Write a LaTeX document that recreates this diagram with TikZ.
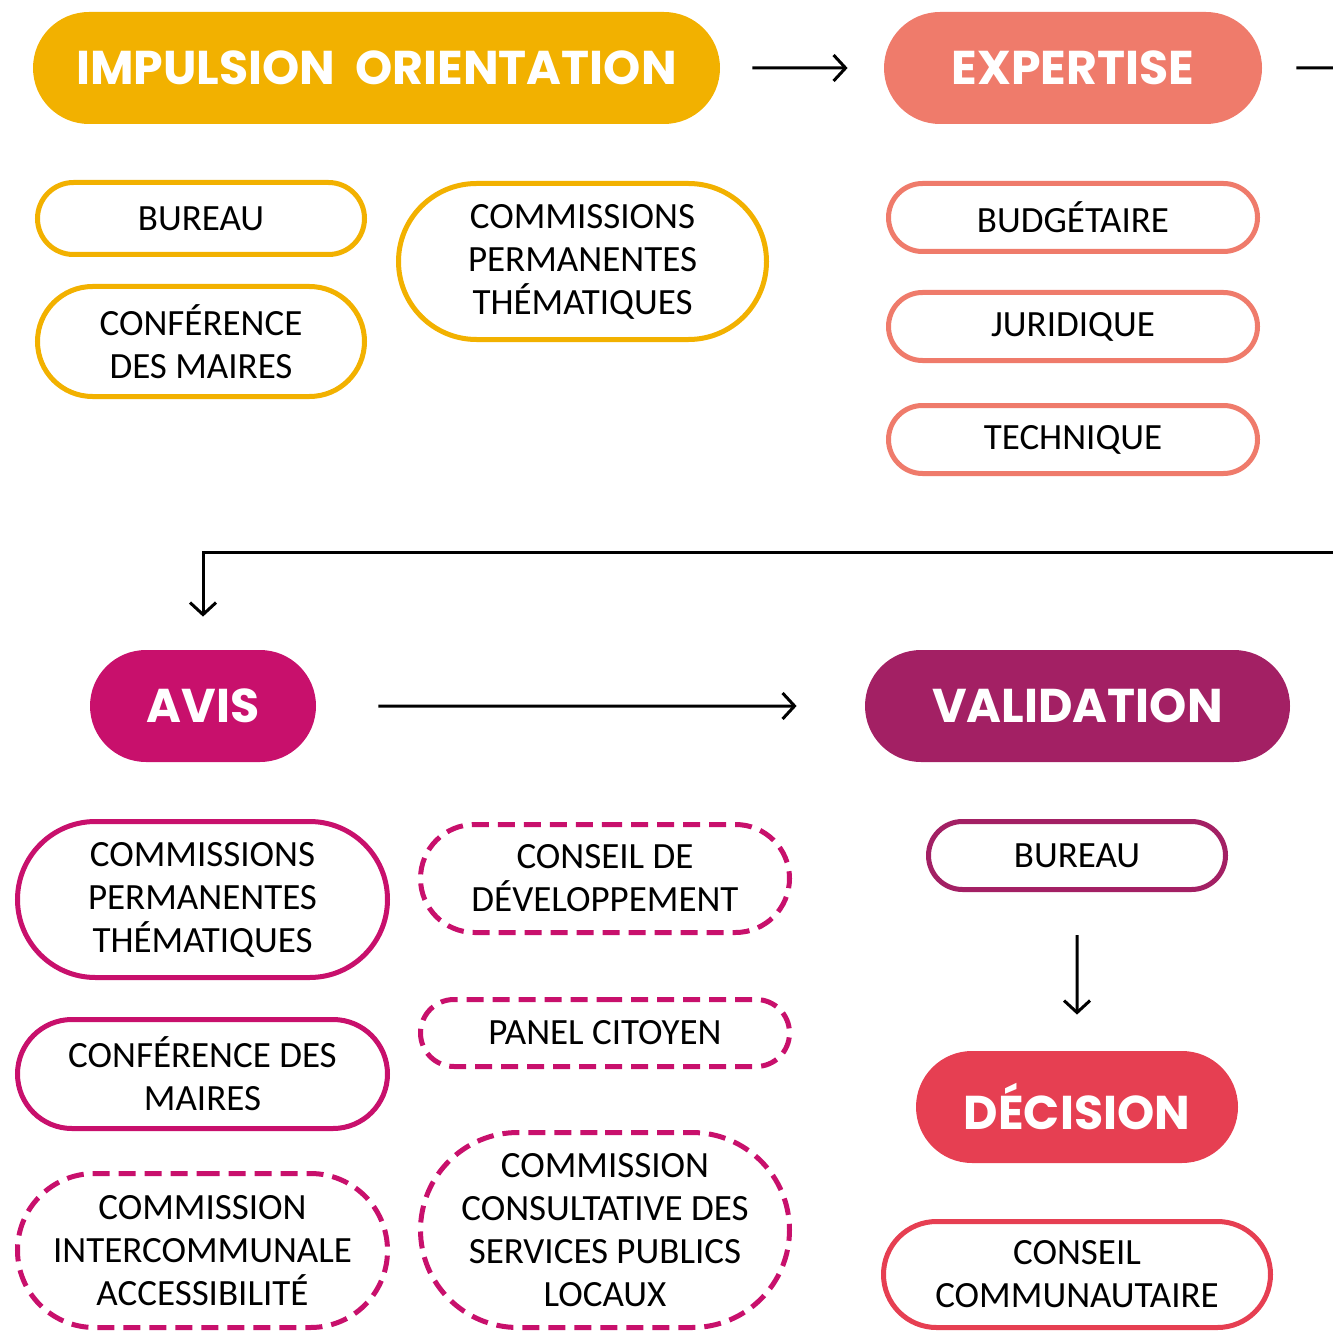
\documentclass[tikz,border=0pt]{standalone}
\usepackage{fontspec}
\setmainfont{Carlito}
\newfontfamily\headfont{Poppins}
\usetikzlibrary{shapes.misc,arrows.meta}

\definecolor{jaune}{HTML}{F2B100}
\definecolor{saumon}{HTML}{EF7B6B}
\definecolor{magenta}{HTML}{C8106C}
\definecolor{prune}{HTML}{A32064}
\definecolor{rouge}{HTML}{E63F52}

\tikzset{
	head/.style={rounded rectangle, fill=#1, text=white, inner sep=0pt,
		minimum height=56pt, font=\headfont\bfseries\fontsize{23.7}{26}\selectfont},
	item/.style={rounded rectangle, draw=#1, line width=2.5pt, inner sep=0pt,
		align=center, font=\fontsize{18.5}{21.5}\selectfont},
	ditem/.style={item=#1, dash pattern=on 8.5pt off 4.5pt},
	plain/.style={line width=1.5pt},
	link/.style={plain, -{Straight Barb[length=6pt,width=13pt,line width=1.5pt]}}
}

\begin{document}
\begin{tikzpicture}[x=0.5pt,y=-0.5pt]
		\useasboundingbox (0,0) rectangle (1333,1332);
		% headers
		\node[head=jaune, minimum width=343.5pt] (imp) at (376.5,68) {IMPULSION\ \ ORIENTATION};
		\node[head=saumon, minimum width=189pt] (exp) at (1073,68) {EXPERTISE};
		\node[head=magenta, minimum width=113pt] (avis) at (203,706) {AVIS};
		\node[head=prune, minimum width=212.5pt] (valid) at (1077.5,706) {VALIDATION};
		\node[head=rouge, minimum width=161pt] (decis) at (1077,1107) {DÉCISION};
		% impulsion orientation
		\node[item=jaune, minimum width=163.5pt, minimum height=36pt] (bureauA) at (201,218.5) {BUREAU};
		\node[item=jaune, minimum width=163.5pt, minimum height=55pt] (confA) at (201,341.5) {CONFÉRENCE\\DES MAIRES};
		\node[item=jaune, minimum width=184pt, minimum height=78pt] (commA) at (582.5,261.5) {COMMISSIONS\\PERMANENTES\\THÉMATIQUES};
		% expertise
		\node[item=saumon, minimum width=184.5pt, minimum height=34pt] (budget) at (1073,217.5) {BUDGÉTAIRE};
		\node[item=saumon, minimum width=184.5pt, minimum height=34pt] (jurid) at (1073,326.5) {JURIDIQUE};
		\node[item=saumon, minimum width=184.5pt, minimum height=34pt] (tech) at (1073,439.5) {TECHNIQUE};
		% avis
		\node[item=magenta, minimum width=185pt, minimum height=78pt] (commB) at (202.5,899.5) {COMMISSIONS\\PERMANENTES\\THÉMATIQUES};
		\node[item=magenta, minimum width=185pt, minimum height=54.5pt] (confB) at (202.5,1074) {CONFÉRENCE DES\\MAIRES};
		\node[ditem=magenta, minimum width=185pt, minimum height=77pt] (cia) at (202.5,1250.5) {COMMISSION\\INTERCOMMUNALE\\ACCESSIBILITÉ};
		\node[ditem=magenta, minimum width=184.5pt, minimum height=54pt] (devel) at (605,878.5) {CONSEIL DE\\DÉVELOPPEMENT};
		\node[ditem=magenta, minimum width=184.5pt, minimum height=33.5pt] (panel) at (605,1033) {PANEL CITOYEN};
		\node[ditem=magenta, minimum width=184.5pt, minimum height=97.5pt] (ccsp) at (605,1230) {COMMISSION\\CONSULTATIVE DES\\SERVICES PUBLICS\\LOCAUX};
		% validation, decision
		\node[item=prune, minimum width=148.5pt, minimum height=34pt] (bureauV) at (1077,855.5) {BUREAU};
		\node[item=rouge, minimum width=193.5pt, minimum height=53pt] (cc) at (1077,1274.5) {CONSEIL\\COMMUNAUTAIRE};
		% connectors
		\coordinate (outR) at (1333,68);
		\coordinate (inR) at (1333,552);
		\draw[link, shorten <=16pt, shorten >=18pt] (imp) -- (exp);
		\draw[plain, shorten <=17pt] (exp) -- (outR);
		\draw[link, shorten >=16.5pt] (inR) -| (avis);
		\draw[link, shorten <=31pt, shorten >=34pt] (avis) -- (valid);
		\draw[link, shorten <=21.5pt, shorten >=18pt] (bureauV) -- (decis);
\end{tikzpicture}
\end{document}
